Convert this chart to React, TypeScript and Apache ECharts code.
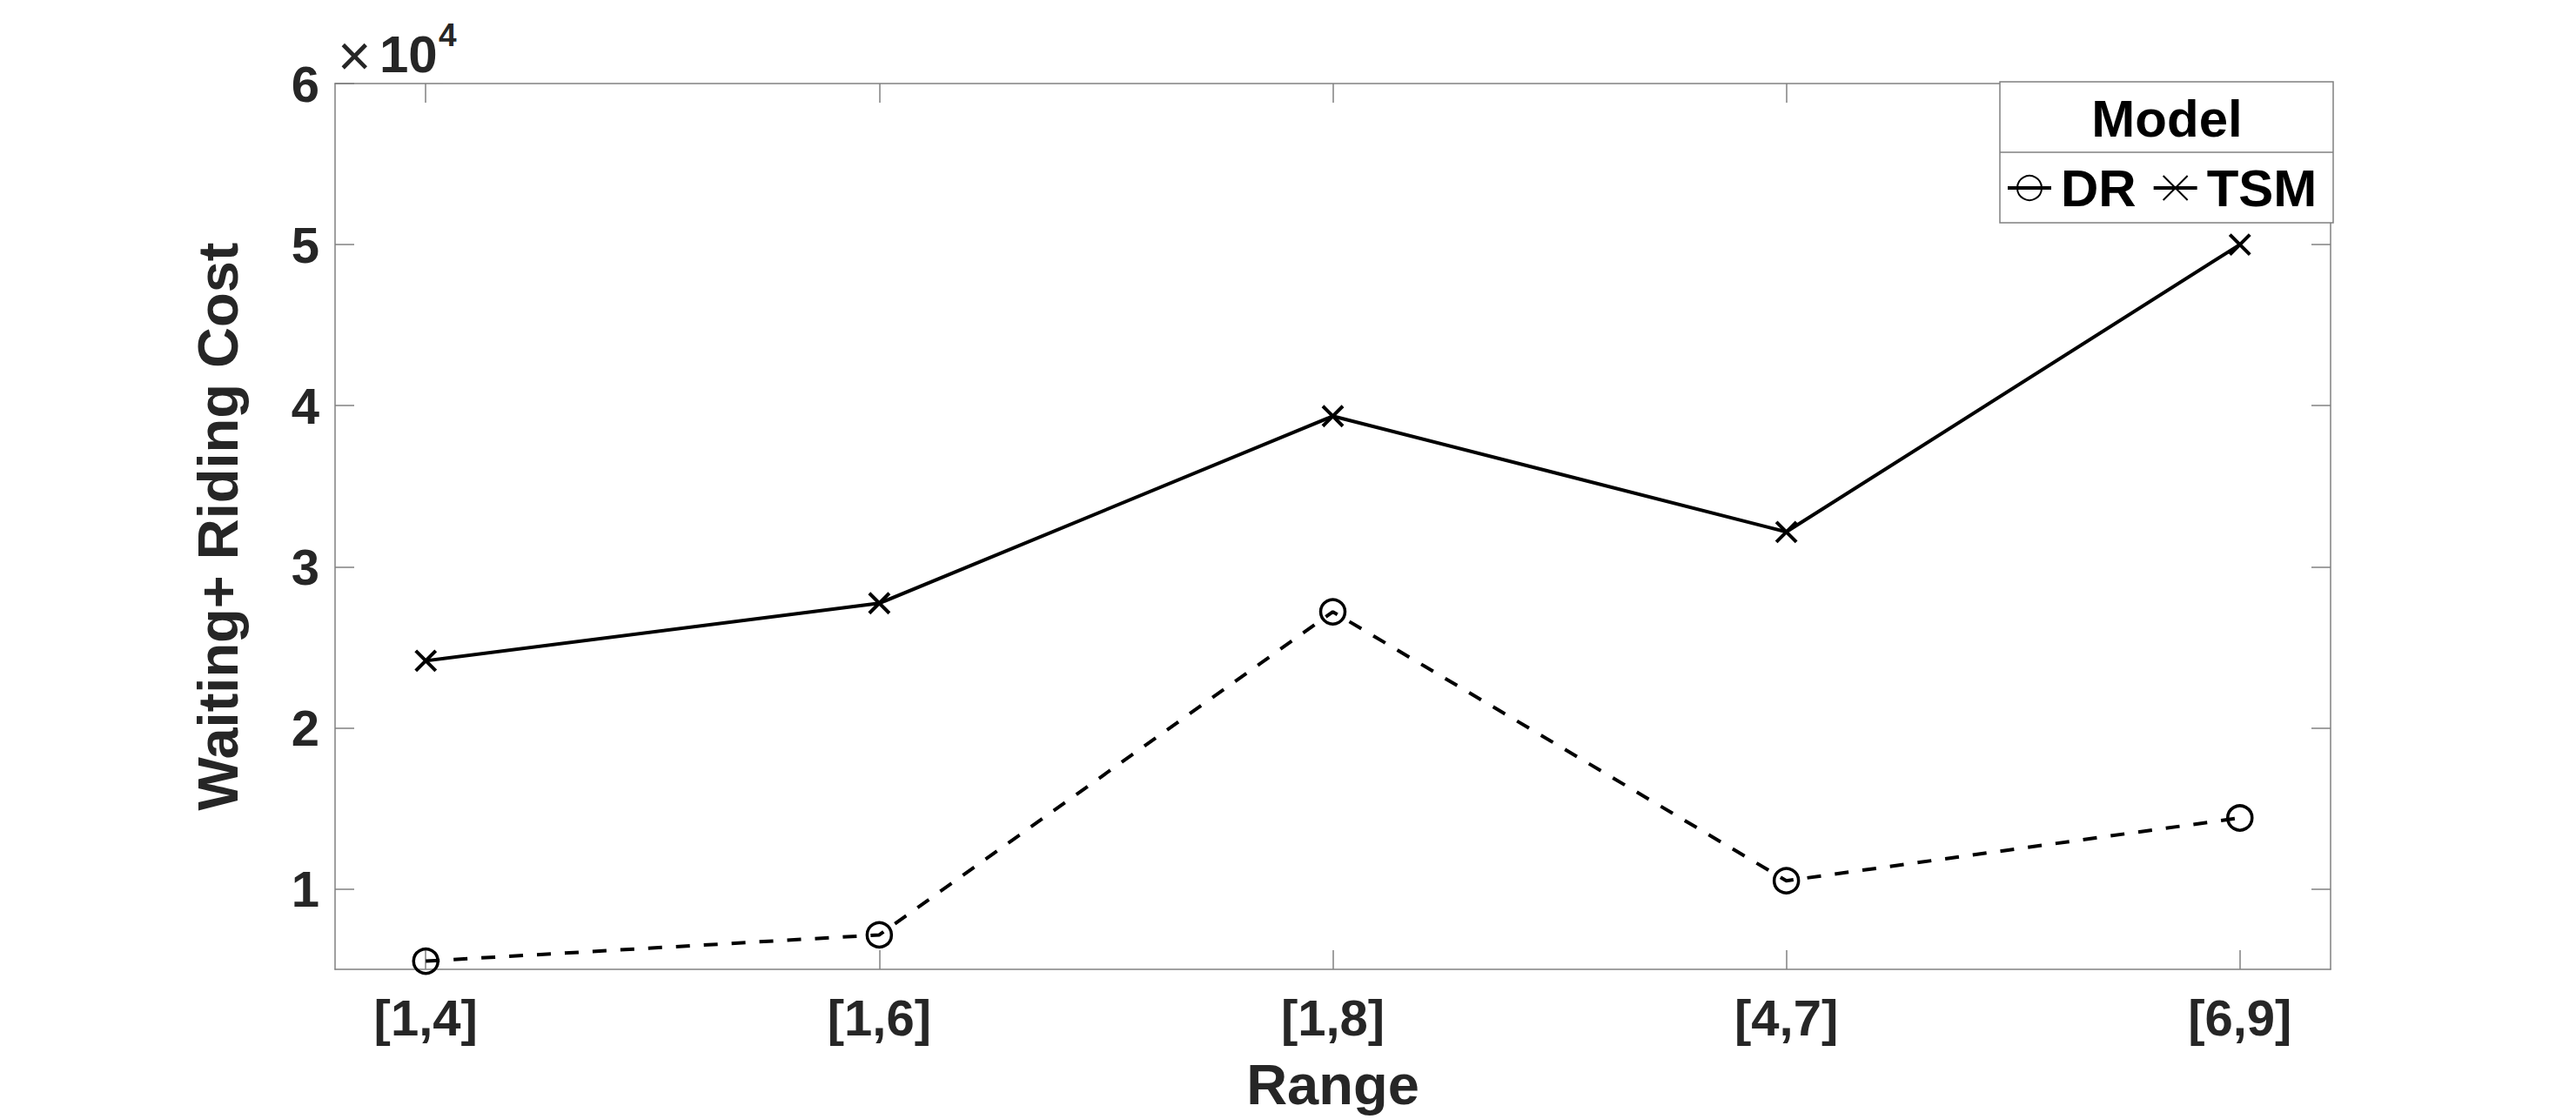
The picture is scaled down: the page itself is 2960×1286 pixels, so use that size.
import React, { useEffect, useRef } from "react";
import * as echarts from "echarts";

const categories = ["[1,4]", "[1,6]", "[1,8]", "[4,7]", "[6,9]"];
const xPositions = [1, 2, 3, 4, 5];
const drValues = [5510, 7140, 27200, 10500, 14400];
const tsmValues = [24160, 27730, 39350, 32160, 50000];
const yTicks = [10000, 20000, 30000, 40000, 50000, 60000];
const seriesNames = ["DR", "TSM"];
const legendTitle = "Model";
const xName = "Range";
const yName = "Waiting+ Riding Cost";
const yScaleBase = "10";
const yScaleExp = "4";

const FONT = "'Liberation Sans', Arial, Helvetica, sans-serif";
const AXIS_COLOR = "#808080";
const TEXT_COLOR = "#262626";

export default function App() {
  const ref = useRef<HTMLDivElement>(null);

  useEffect(() => {
    if (!ref.current) return;
    const chart = echarts.init(ref.current, undefined, { renderer: "svg" });

    const axisLine = { show: true, lineStyle: { color: AXIS_COLOR, width: 1.5 } };
    const tickStyle = { color: AXIS_COLOR, width: 1.5 };

    const xBase = {
      type: "value" as const,
      min: 0.8,
      max: 5.2,
      splitLine: { show: false },
      axisLine,
    };
    const yBase = {
      type: "value" as const,
      min: 5000,
      max: 60000,
      splitLine: { show: false },
      axisLine,
    };

    const option: any = {
      animation: false,
      backgroundColor: "#ffffff",
      textStyle: { fontFamily: FONT },
      grid: { left: 385, right: 282, top: 96, bottom: 172, containLabel: false },
      xAxis: [
        {
          ...xBase,
          position: "bottom",
          axisTick: { show: true, inside: true, length: 22, customValues: xPositions, lineStyle: tickStyle },
          axisLabel: {
            show: true,
            customValues: xPositions,
            formatter: (v: number) => categories[Math.round(v) - 1] ?? "",
            fontSize: 58,
            fontWeight: "bold",
            fontFamily: FONT,
            color: TEXT_COLOR,
            margin: 26,
          },
          name: xName,
          nameLocation: "middle",
          nameGap: 100,
          nameTextStyle: { fontSize: 65, fontWeight: "bold", fontFamily: FONT, color: TEXT_COLOR },
        },
        {
          ...xBase,
          position: "top",
          axisTick: { show: true, inside: true, length: 22, customValues: xPositions, lineStyle: tickStyle },
          axisLabel: { show: false },
        },
      ],
      yAxis: [
        {
          ...yBase,
          position: "left",
          axisTick: { show: true, inside: true, length: 22, customValues: yTicks, lineStyle: tickStyle },
          axisLabel: {
            show: true,
            customValues: yTicks,
            formatter: (v: number) => String(Math.round(v / 10000)),
            fontSize: 58,
            fontWeight: "bold",
            fontFamily: FONT,
            color: TEXT_COLOR,
            margin: 18,
          },
          name: yName,
          nameLocation: "middle",
          nameGap: 102,
          nameRotate: 90,
          nameTextStyle: { fontSize: 65, fontWeight: "bold", fontFamily: FONT, color: TEXT_COLOR },
        },
        {
          ...yBase,
          position: "right",
          axisTick: { show: true, inside: true, length: 22, customValues: yTicks, lineStyle: tickStyle },
          axisLabel: { show: false },
        },
      ],
      legend: {
        show: true,
        orient: "horizontal",
        left: 2305,
        top: 186,
        padding: 0,
        itemWidth: 50,
        itemHeight: 35,
        itemGap: 18,
        selectedMode: false,
        textStyle: { fontSize: 60, fontWeight: "bold", fontFamily: FONT, color: "#000", padding: [0, 0, 0, 6] },
        data: [
          { name: seriesNames[0], lineStyle: { type: "solid", width: 4 } },
          { name: seriesNames[1], lineStyle: { width: 4 } },
        ],
      },
      graphic: [
        {
          type: "rect",
          z: 1,
          shape: { x: 2298, y: 94, width: 383, height: 162 },
          style: { fill: "#ffffff", stroke: AXIS_COLOR, lineWidth: 1.5 },
        },
        {
          type: "line",
          z: 1,
          shape: { x1: 2298, y1: 175, x2: 2681, y2: 175 },
          style: { stroke: AXIS_COLOR, lineWidth: 1.5 },
        },
        {
          type: "text",
          z: 2,
          x: 2490,
          y: 136,
          style: {
            text: legendTitle,
            fontSize: 60,
            fontWeight: "bold",
            fontFamily: FONT,
            fill: "#000",
            align: "center",
            verticalAlign: "middle",
          },
        },
        {
          type: "text",
          x: 388,
          y: 64,
          style: {
            text: "×",
            fontSize: 66,
            fontWeight: "normal",
            fontFamily: FONT,
            fill: TEXT_COLOR,
            align: "left",
            verticalAlign: "middle",
          },
        },
        {
          type: "text",
          x: 436,
          y: 62,
          style: {
            text: yScaleBase,
            fontSize: 60,
            fontWeight: "bold",
            fontFamily: FONT,
            fill: TEXT_COLOR,
            align: "left",
            verticalAlign: "middle",
          },
        },
        {
          type: "text",
          x: 504,
          y: 40,
          style: {
            text: yScaleExp,
            fontSize: 37,
            fontWeight: "bold",
            fontFamily: FONT,
            fill: TEXT_COLOR,
            align: "left",
            verticalAlign: "middle",
          },
        },
      ],
      series: [
        {
          name: seriesNames[0],
          type: "line",
          xAxisIndex: 0,
          yAxisIndex: 0,
          data: xPositions.map((x, i) => [x, drValues[i]]),
          symbol: "circle",
          symbolSize: 28,
          showAllSymbol: true,
          lineStyle: { color: "#000", width: 4, type: [16, 16] },
          itemStyle: { color: "rgba(0,0,0,0)", borderColor: "#000", borderWidth: 3.5 },
          emphasis: { disabled: true },
          z: 3,
        },
        {
          name: seriesNames[1],
          type: "line",
          xAxisIndex: 0,
          yAxisIndex: 0,
          data: xPositions.map((x, i) => [x, tsmValues[i]]),
          symbol: "path://M0,0L10,10M10,0L0,10",
          symbolSize: 23,
          showAllSymbol: true,
          lineStyle: { color: "#000", width: 4, type: "solid" },
          itemStyle: { color: "none", borderColor: "#000", borderWidth: 4 },
          emphasis: { disabled: true },
          z: 3,
        },
      ],
    };

    chart.setOption(option);
    return () => {
      chart.dispose();
    };
  }, []);

  return (
    <div
      ref={ref}
      style={{ position: "fixed", left: 0, top: 0, width: 2960, height: 1286, background: "#fff" }}
    />
  );
}
